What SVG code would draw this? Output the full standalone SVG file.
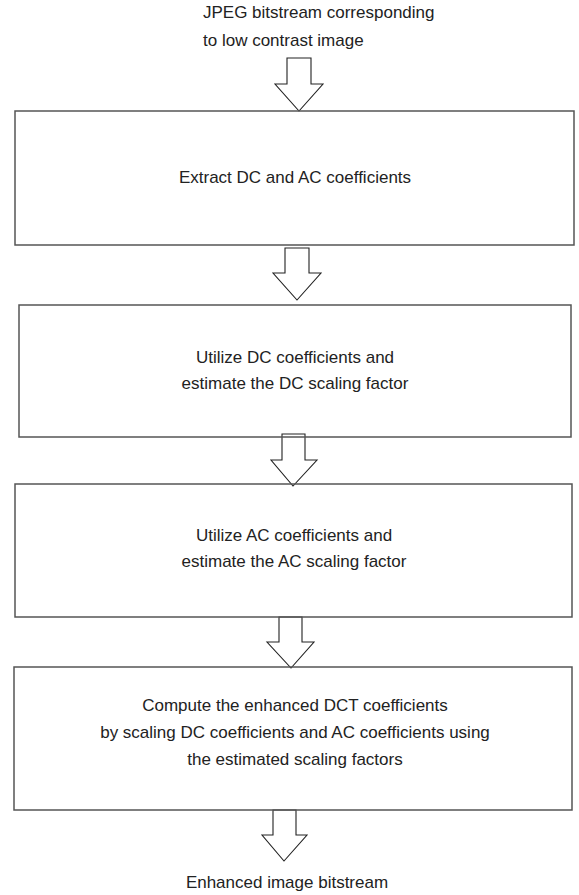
<svg xmlns="http://www.w3.org/2000/svg" width="579" height="895" viewBox="0 0 579 895">
<style>
.box{fill:none;stroke:#555;stroke-width:1.5}
.arr{fill:none;stroke:#222;stroke-width:1.1;stroke-linejoin:miter}
text{font-family:"Liberation Sans",Arial,sans-serif;font-size:17px;fill:#222}
.c{text-anchor:middle}
</style>
<rect width="579" height="895" fill="#fff"/>
<g id="input">
<text x="203" y="18">JPEG bitstream corresponding</text>
<text x="203" y="46">to low contrast image</text>
</g>
<g id="connectors">
<polygon class="arr" points="287,58 311,58 311,84 323,84 299,111 275,84 287,84"/>
<polygon class="arr" points="285,248 309,248 309,273 321,273 297,300 273,273 285,273"/>
<polygon class="arr" points="282,434 305,434 305,460 317,460 293,486 271,460 282,460"/>
<polygon class="arr" points="279,617 302,617 302,642 314,642 291,668 267,642 279,642"/>
<polygon class="arr" points="273,810 296,810 296,835 307,835 284,861 262,835 273,835"/>
</g>
<g id="extract">
<rect class="box" x="15" y="111" width="559" height="134"/>
<text class="c" x="295" y="183">Extract DC and AC coefficients</text>
</g>
<g id="dc">
<rect class="box" x="19" y="305" width="552" height="132"/>
<text class="c" x="295" y="363">Utilize DC coefficients and</text>
<text class="c" x="295" y="389">estimate the DC scaling factor</text>
</g>
<g id="ac">
<rect class="box" x="15" y="484" width="557" height="133"/>
<text class="c" x="294" y="541">Utilize AC coefficients and</text>
<text class="c" x="294" y="567">estimate the AC scaling factor</text>
</g>
<g id="compute">
<rect class="box" x="14" y="667" width="558" height="143"/>
<text class="c" x="295" y="711">Compute the enhanced DCT coefficients</text>
<text class="c" x="295" y="738">by scaling DC coefficients and AC coefficients using</text>
<text class="c" x="295" y="765">the estimated scaling factors</text>
</g>
<g id="output">
<text class="c" x="287" y="888">Enhanced image bitstream</text>
</g>
</svg>
